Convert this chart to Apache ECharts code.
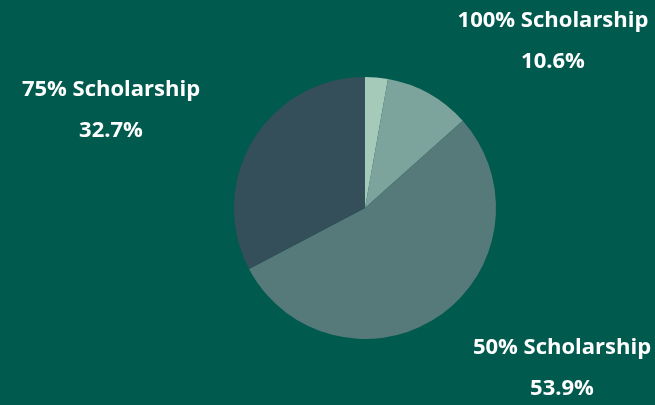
<!DOCTYPE html>
<html>
<head>
<meta charset="utf-8">
<script src="https://cdn.jsdelivr.net/npm/echarts@6/dist/echarts.min.js"></script>
<style>
html,body{margin:0;padding:0;background:#005A4E;}
#c{width:655px;height:405px;}
</style>
</head>
<body>
<div id="c"></div>
<script>
var categories = ['Other', '100% Scholarship', '50% Scholarship', '75% Scholarship'];
var values = [2.8, 10.6, 53.9, 32.7];
var showLabel = [false, true, true, true];
var colors = ['#A6CABA', '#7CA39C', '#56797A', '#344F5A'];
var labelPos = [null, [553, 41], [562, 368], [111, 110]];

var chart = echarts.init(document.getElementById('c'));
chart.setOption({
  backgroundColor: '#005A4E',
  animation: false,
  series: [{
    type: 'pie',
    center: [365, 208],
    radius: [0, 131],
    startAngle: 90,
    clockwise: true,
    avoidLabelOverlap: false,
    labelLine: { show: false },
    data: categories.map(function (c, i) {
      return {
        name: c,
        value: values[i],
        itemStyle: { color: colors[i] },
        label: { show: showLabel[i] }
      };
    }),
    label: {
      position: 'outside',
      formatter: function (p) { return p.name + '\n' + p.value + '%'; },
      color: '#ffffff',
      fontFamily: '"Liberation Sans Narrow", "Open Sans", sans-serif',
      fontWeight: 'bold',
      fontSize: 22,
      lineHeight: 41,
      align: 'center'
    },
    labelLayout: function (params) {
      var p = labelPos[params.dataIndex];
      if (!p) return {};
      return { x: p[0], y: p[1], align: 'center', verticalAlign: 'middle' };
    }
  }]
});
</script>
</body>
</html>
